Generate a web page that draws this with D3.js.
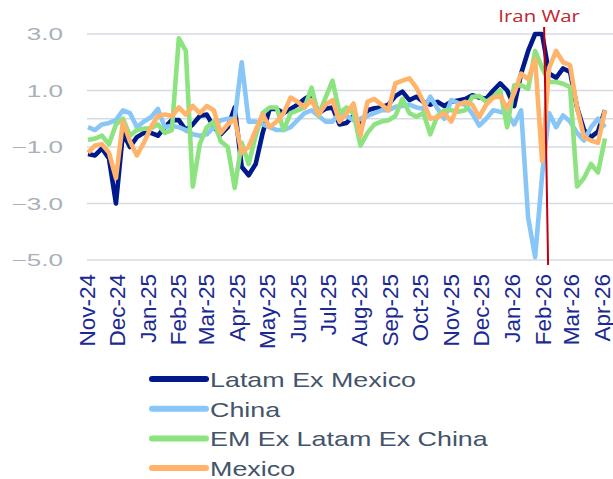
<!DOCTYPE html>
<html>
<head>
<meta charset="utf-8">
<script src="https://cdn.jsdelivr.net/npm/d3@7"></script>
<style>
  html, body { margin: 0; padding: 0; background: #fff; }
  svg { display: block; }
</style>
</head>
<body>
<svg id="chart" width="613" height="479"></svg>
<script>
// weekly readings, first week 2 Nov 2024
const firstWeek = new Date(2024, 10, 2);

const monthLabels = ["Nov-24", "Dec-24", "Jan-25", "Feb-25", "Mar-25", "Apr-25", "May-25", "Jun-25",
  "Jul-25", "Aug-25", "Sep-25", "Oct-25", "Nov-25", "Dec-25", "Jan-26", "Feb-26", "Mar-26", "Apr-26"];

const yTicks = [3, 1, -1, -3, -5];

const latamExMexico = [
  -1.25, -1.3, -1.05, -1.4, -3.0, -0.5, -1.0, -0.65, -0.5, -0.5,
  -0.6, -0.3, -0.05, -0.05, -0.4, -0.2, 0.1, 0.15, -0.3, -0.55,
  -0.3, 0.4, -1.7, -2.0, -1.6, -0.5, 0.35, 0.35, 0.2, 0.35,
  0.5, 0.7, 0.85, 0.2, 0.35, 0.4, -0.2, -0.15, 0.1, -0.3,
  0.3, 0.37, 0.4, 0.5, 0.8, 0.96, 0.66, 0.78, 0.6, 0.5,
  0.6, 0.45, 0.6, 0.65, 0.7, 0.83, 0.75, 0.71, 1.0, 1.25,
  1.0, 0.45, 1.6, 2.4, 3.0, 3.0, 1.6, 1.45, 1.78, 1.66,
  0.4, -0.4, -0.65, -0.45, 0.3
];

const china = [
  -0.3, -0.4, -0.2, -0.15, -0.05, 0.3, 0.2, -0.3, -0.1, 0.05,
  0.35, -0.3, -0.25, -0.3, -0.4, -0.55, -0.6, -0.55, -0.3, -0.05,
  0.0, 0.0, 2.0, -0.1, -0.1, -0.2, -0.3, -0.4, -0.4, -0.3,
  -0.05, 0.2, 0.3, 0.1, -0.1, -0.1, 0.2, 0.1, -0.05, 0.0,
  0.1, 0.2, 0.3, 0.3, 0.42, 0.45, 0.5, 0.4, 0.35, 0.78,
  0.37, 0.0, 0.66, 0.55, 0.5, 0.18, -0.24, 0.0, 0.3, 0.25,
  0.18, -0.2, 0.3, -3.5, -4.9, -2.0, 0.2, -0.3, 0.12, -0.1,
  -0.5, -0.77, -0.3, 0.0, -0.3
];

const emExLatamExChina = [
  -0.75, -0.7, -0.6, -0.9, -0.2, 0.0, -0.6, -0.4, -0.35, -0.35,
  -0.2, -0.5, -0.4, 2.85, 2.4, -2.4, -0.9, -0.3, -0.1, -0.8,
  -1.0, -2.45, -0.85, -1.6, -0.6, 0.2, 0.4, 0.4, -0.4, 0.2,
  0.3, 0.4, 1.1, 0.1, 0.75, 1.35, 0.2, 0.4, 0.2, -0.95,
  -0.5, -0.2, -0.1, -0.05, 0.1, 0.7, 0.2, 0.07, 0.2, -0.55,
  0.1, 0.3, 0.3, 0.25, 0.3, 0.78, 0.8, 0.6, 0.77, 1.0,
  -0.3, 1.18, 1.18, 1.06, 2.4, 1.8, 1.3, 1.3, 1.24, 1.12,
  -2.4, -2.1, -1.6, -1.9, -0.7
];

const mexico = [
  -1.2, -0.95, -0.9, -1.2, -2.1, -0.1, -0.8, -1.3, -0.85, -0.3,
  0.1, 0.15, 0.1, 0.4, 0.15, 0.45, 0.2, 0.45, 0.3, -0.5,
  -0.2, 0.0, -1.2, -1.0, -0.4, 0.15, -0.3, -0.1, 0.2, 0.75,
  0.6, 0.4, 0.66, 0.15, 0.5, 0.66, -0.1, 0.2, 0.54, -0.6,
  0.6, 0.7, 0.5, 0.3, 1.25, 1.35, 1.43, 1.1, 0.6, 0.0,
  0.05, 0.2, -0.1, 0.5, 0.6, 0.5, 0.06, 0.5, 0.75, 0.8,
  0.36, 0.9, 1.6, 1.4, 2.1, -1.5, 1.8, 2.4, 2.0, 1.9,
  0.4, -0.65, -0.77, -0.85, 0.3
];

const seriesNames = ["Latam Ex Mexico", "China", "EM Ex Latam Ex China", "Mexico"];
const seriesColors = ["#001a8c", "#88c6f8", "#8de37f", "#ffb36b"];
const seriesValues = [latamExMexico, china, emExLatamExChina, mexico];

const warLabel = "Iran War";
const warDate = new Date(2026, 1, 4);

const svg = d3.select("#chart");
const font = "'Liberation Sans', Arial, sans-serif";

const x = d3.scaleTime()
  .domain([new Date(2024, 10, 1), new Date(2026, 3, 1)])
  .range([87, 602]);
const y = d3.scaleLinear().domain([-5, 3]).range([260, 34]);

const weeks = latamExMexico.map((_, i) => d3.timeDay.offset(firstWeek, 7 * i));

// gridlines + zero axis
svg.append("g")
  .selectAll("line")
  .data(yTicks.concat([0]))
  .join("line")
  .attr("x1", 87).attr("x2", 613)
  .attr("y1", (d) => y(d)).attr("y2", (d) => y(d))
  .attr("stroke", "#d6dbe3")
  .attr("stroke-width", 1.3);

// y labels (stretched like the original)
svg.append("g")
  .selectAll("text")
  .data(yTicks)
  .join("text")
  .attr("transform", (d) => `translate(63,${y(d) + 6}) scale(1.58,1)`)
  .attr("text-anchor", "end")
  .attr("font-family", font)
  .attr("font-size", 16.5)
  .attr("fill", "#a8b0bb")
  .text((d) => d3.format(".1f")(d));

// x labels
const months = monthLabels.map((m, i) => d3.timeMonth.offset(new Date(2024, 10, 1), i));
svg.append("g")
  .selectAll("text")
  .data(months)
  .join("text")
  .attr("transform", (d) => `translate(${x(d)},274) rotate(-90)`)
  .attr("text-anchor", "end")
  .attr("dy", "0.34em")
  .attr("font-family", font)
  .attr("font-size", 22.5)
  .attr("fill", "#1b2a92")
  .text((d, i) => monthLabels[i]);

// series lines
const line = d3.line()
  .x((d, i) => x(weeks[i]))
  .y((d) => y(d));

svg.append("g")
  .selectAll("path")
  .data(seriesValues)
  .join("path")
  .attr("d", (d) => line(d))
  .attr("fill", "none")
  .attr("stroke", (d, i) => seriesColors[i])
  .attr("stroke-width", 4.6)
  .attr("stroke-linejoin", "round");

// war marker
svg.append("line")
  .attr("x1", x(warDate) - 2).attr("x2", x(warDate) + 2)
  .attr("y1", 27).attr("y2", 265)
  .attr("stroke", "#c00010")
  .attr("stroke-width", 2);

svg.append("text")
  .attr("transform", `translate(${x(warDate) - 7},22) scale(1.2,1)`)
  .attr("text-anchor", "middle")
  .attr("font-family", "'Open Sans', 'Noto Sans', sans-serif")
  .attr("font-size", 17)
  .attr("fill", "#c0262e")
  .text(warLabel);

// legend
const legend = svg.append("g")
  .selectAll("g")
  .data(seriesNames)
  .join("g")
  .attr("transform", (d, i) => `translate(0,${379 + i * 29.7})`);

legend.append("line")
  .attr("x1", 152).attr("x2", 206)
  .attr("stroke", (d, i) => seriesColors[i])
  .attr("stroke-width", 6)
  .attr("stroke-linecap", "round");

legend.append("text")
  .attr("transform", "translate(210,8) scale(1.28,1)")
  .attr("font-family", font)
  .attr("font-size", 21)
  .attr("fill", "#44546a")
  .text((d) => d);
</script>
</body>
</html>
